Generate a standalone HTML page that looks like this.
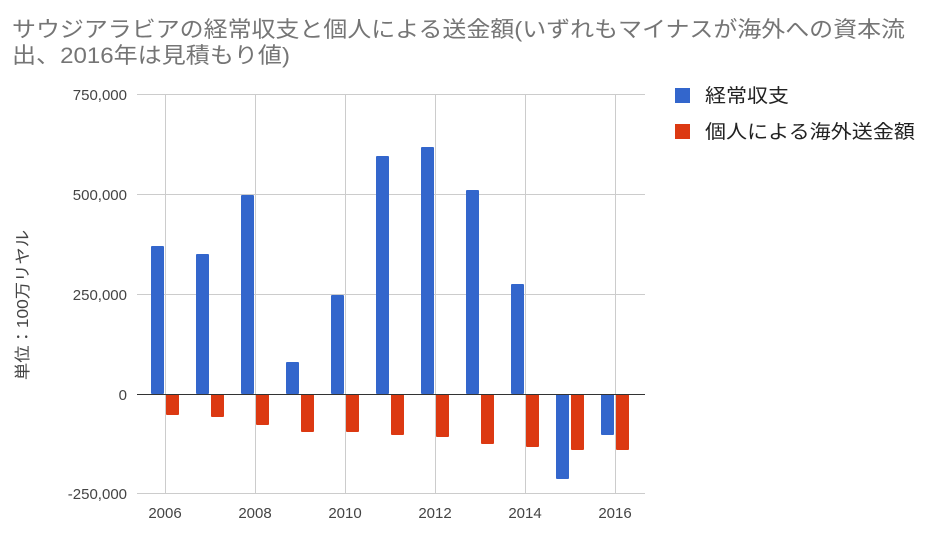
<!DOCTYPE html>
<html><head><meta charset="utf-8"><style>
body{margin:0;background:#fff;width:928px;height:531px;overflow:hidden}
text{font-family:"Liberation Sans","Noto Sans CJK JP",sans-serif}
</style></head><body>
<svg width="928" height="531" xmlns="http://www.w3.org/2000/svg">
<text x="12" y="37" font-size="22" fill="#757575" textLength="893" lengthAdjust="spacingAndGlyphs">サウジアラビアの経常収支と個人による送金額(いずれもマイナスが海外への資本流</text>
<text x="12" y="63" font-size="22" fill="#757575" textLength="278" lengthAdjust="spacingAndGlyphs">出、2016年は見積もり値)</text>
<g stroke="#ccc" stroke-width="1">
<line x1="137" y1="94.5" x2="645" y2="94.5"/>
<line x1="137" y1="194.5" x2="645" y2="194.5"/>
<line x1="137" y1="294.5" x2="645" y2="294.5"/>
<line x1="137" y1="493.5" x2="645" y2="493.5"/>
<line x1="165.5" y1="94" x2="165.5" y2="493"/>
<line x1="255.5" y1="94" x2="255.5" y2="493"/>
<line x1="345.5" y1="94" x2="345.5" y2="493"/>
<line x1="435.5" y1="94" x2="435.5" y2="493"/>
<line x1="525.5" y1="94" x2="525.5" y2="493"/>
<line x1="615.5" y1="94" x2="615.5" y2="493"/>
</g>
<g fill="#3366cc">
<rect x="151" y="246" width="13" height="148" rx="1"/>
<rect x="196" y="254" width="13" height="140" rx="1"/>
<rect x="241" y="195" width="13" height="199" rx="1"/>
<rect x="286" y="362" width="13" height="32" rx="1"/>
<rect x="331" y="295" width="13" height="99" rx="1"/>
<rect x="376" y="156" width="13" height="238" rx="1"/>
<rect x="421" y="147" width="13" height="247" rx="1"/>
<rect x="466" y="190" width="13" height="204" rx="1"/>
<rect x="511" y="284" width="13" height="110" rx="1"/>
<rect x="556" y="394" width="13" height="85" rx="1"/>
<rect x="601" y="394" width="13" height="41" rx="1"/>
</g>
<g fill="#dc3912">
<rect x="166" y="394" width="13" height="21" rx="1"/>
<rect x="211" y="394" width="13" height="23" rx="1"/>
<rect x="256" y="394" width="13" height="31" rx="1"/>
<rect x="301" y="394" width="13" height="38" rx="1"/>
<rect x="346" y="394" width="13" height="38" rx="1"/>
<rect x="391" y="394" width="13" height="41" rx="1"/>
<rect x="436" y="394" width="13" height="43" rx="1"/>
<rect x="481" y="394" width="13" height="50" rx="1"/>
<rect x="526" y="394" width="13" height="53" rx="1"/>
<rect x="571" y="394" width="13" height="56" rx="1"/>
<rect x="616" y="394" width="13" height="56" rx="1"/>
</g>
<line x1="137" y1="394.5" x2="645" y2="394.5" stroke="#333" stroke-width="1"/>
<g font-size="15" fill="#444" text-anchor="end">
<text x="127" y="100">750,000</text>
<text x="127" y="200">500,000</text>
<text x="127" y="300">250,000</text>
<text x="127" y="400">0</text>
<text x="127" y="499">-250,000</text>
</g>
<g font-size="15" fill="#444" text-anchor="middle">
<text x="165" y="518">2006</text>
<text x="255" y="518">2008</text>
<text x="345" y="518">2010</text>
<text x="435" y="518">2012</text>
<text x="525" y="518">2014</text>
<text x="615" y="518">2016</text>
</g>
<text transform="translate(28,305) rotate(-90)" font-size="16" fill="#444" text-anchor="middle" textLength="150" lengthAdjust="spacingAndGlyphs">単位：100万リヤル</text>
<rect x="675" y="88" width="15" height="15" fill="#3366cc"/>
<text x="705" y="102" font-size="19" fill="#222" textLength="84" lengthAdjust="spacingAndGlyphs">経常収支</text>
<rect x="675" y="124" width="15" height="15" fill="#dc3912"/>
<text x="705" y="138" font-size="19" fill="#222" textLength="210" lengthAdjust="spacingAndGlyphs">個人による海外送金額</text>
</svg>
</body></html>
